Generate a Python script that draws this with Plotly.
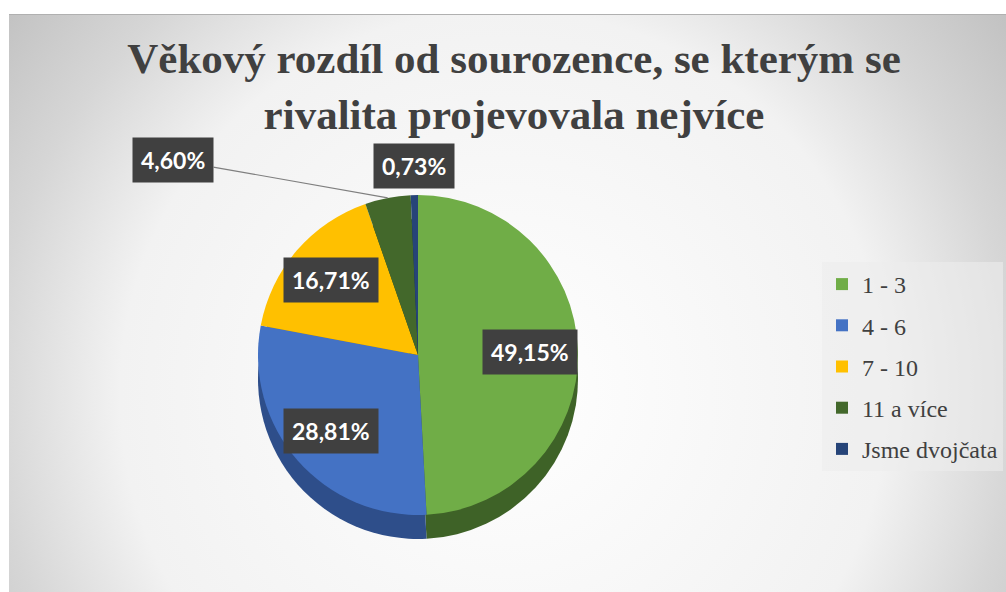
import math
import base64
import plotly.graph_objects as go

# ---------------- data ----------------
categories = ["1 - 3", "4 - 6", "7 - 10", "11 a více", "Jsme dvojčata"]
values = [49.15, 28.81, 16.71, 4.60, 0.73]
value_labels = ["49,15%", "28,81%", "16,71%", "4,60%", "0,73%"]
title_text = "Věkový rozdíl od sourozence, se kterým se<br>rivalita projevovala nejvíce"

# ---------------- style ----------------
colors = ["#70AD47", "#4472C4", "#FFC000", "#43682B", "#264478"]
side_colors = ["#3E6227", "#2E4E8A", "#B08400", "#2B441B", "#172B4E"]

W, H = 1006, 592
CX, CY, R = 418, 355, 160
DEPTH = 24


def px(x, y):
    return x / W, 1 - y / H


def dom(cx, cy, r):
    return dict(x=[(cx - r) / W, (cx + r) / W], y=[1 - (cy + r) / H, 1 - (cy - r) / H])


fig = go.Figure()

# depth (side wall) of the pie
fig.add_trace(go.Pie(
    values=values, labels=categories, sort=False, direction="clockwise", rotation=0,
    marker=dict(colors=side_colors, line=dict(width=0)),
    domain=dom(CX, CY + DEPTH, R), textinfo="none", hoverinfo="skip", showlegend=False,
))
# top face
fig.add_trace(go.Pie(
    values=values, labels=categories, sort=False, direction="clockwise", rotation=0,
    marker=dict(colors=colors, line=dict(width=0)),
    domain=dom(CX, CY, R), textinfo="none", showlegend=False,
))

# legend entries
for cat, col in zip(categories, colors):
    fig.add_trace(go.Scatter(
        x=[None], y=[None], mode="markers", name=cat, legendgroup=cat,
        marker=dict(symbol="square", size=12, color=col),
    ))

# data labels, positioned from slice mid-angles
total = sum(values)
cum = 0
annotations = []
inside_frac = [0.7, 0.72, 0.72, None, None]
for i, (v, lab) in enumerate(zip(values, value_labels)):
    mid = (cum + v / 2) / total * 2 * math.pi
    cum += v
    box = dict(text=lab, font=dict(family="Lato", size=23, color="white", weight="bold"),
               bgcolor="#404040", borderpad=8, xref="paper", yref="paper",
               xanchor="center", yanchor="middle")
    if inside_frac[i] is not None:
        f = inside_frac[i]
        x, y = px(CX + f * R * math.sin(mid), CY - f * R * math.cos(mid))
        annotations.append(dict(box, x=x, y=y, showarrow=False))
    elif i == 3:
        x, y = px(CX + R * math.sin(mid), CY - R * math.cos(mid))
        annotations.append(dict(box, x=x, y=y, showarrow=True, ax=-215, ay=-38,
                                arrowhead=0, arrowwidth=1.2, arrowcolor="#7F7F7F"))
    else:
        x, y = px(CX + (R + 29) * math.sin(mid), CY - (R + 29) * math.cos(mid))
        annotations.append(dict(box, x=x, y=y, showarrow=False))

# gradient background
svg = (
    '<svg xmlns="http://www.w3.org/2000/svg" width="997" height="578" viewBox="0 0 997 578" '
    'preserveAspectRatio="none"><defs><radialGradient id="g" gradientUnits="userSpaceOnUse" '
    'cx="495" cy="380" r="640"><stop offset="0" stop-color="#ffffff"/>'
    '<stop offset="0.6" stop-color="#f2f2f2"/><stop offset="0.8" stop-color="#d6d6d6"/>'
    '<stop offset="1" stop-color="#c0c0c0"/></radialGradient></defs>'
    '<rect width="997" height="578" fill="url(#g)"/>'
    '<line x1="0" y1="0.5" x2="997" y2="0.5" stroke="#b0b0b0" stroke-width="1"/></svg>'
)
src = "data:image/svg+xml;base64," + base64.b64encode(svg.encode()).decode()

fig.update_layout(
    width=W, height=H,
    margin=dict(l=0, r=0, t=0, b=0),
    paper_bgcolor="white", plot_bgcolor="rgba(0,0,0,0)",
    font=dict(family="Liberation Serif", color="#404040"),
    images=[dict(source=src, xref="paper", yref="paper", x=9 / W, y=1 - 14 / H,
                 sizex=(W - 9) / W, sizey=(H - 14) / H, sizing="stretch",
                 xanchor="left", yanchor="top", layer="below")],
    title=dict(text=title_text, x=514 / W, xanchor="center", y=1 - 73 / H, yanchor="middle",
               font=dict(family="Liberation Serif", size=43, color="#404040", weight="bold")),
    xaxis=dict(visible=False), yaxis=dict(visible=False),
    legend=dict(x=822 / W, y=1 - 262 / H, xanchor="left", yanchor="top",
                bgcolor="rgba(236,236,236,0.6)", tracegroupgap=7, itemwidth=30,
                font=dict(family="Liberation Serif", size=24, color="#404040")),
    annotations=annotations,
    showlegend=True,
)

fig.write_html("out.html", config={"displayModeBar": False},
               post_script="document.body.style.margin='0';document.body.style.overflow='hidden';")
